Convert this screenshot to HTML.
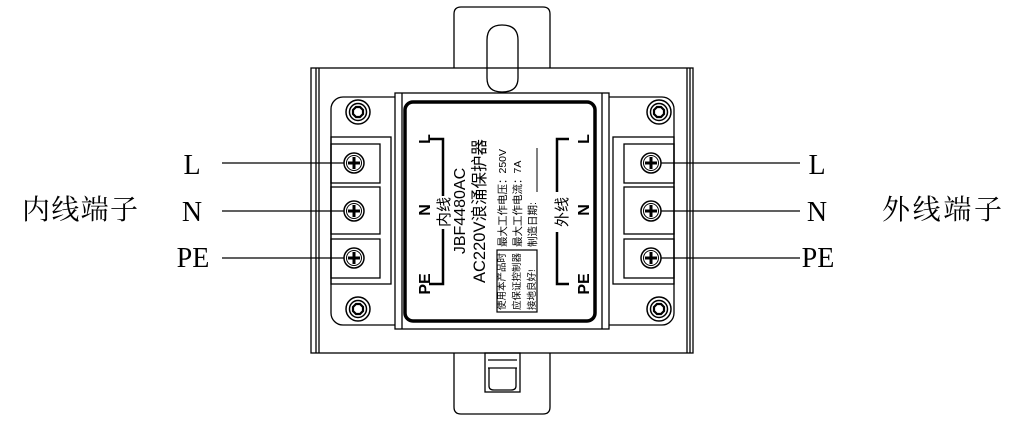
<!DOCTYPE html>
<html><head><meta charset="utf-8"><style>
html,body{margin:0;padding:0;background:#fff;}
svg{display:block}
.s{font-family:"Liberation Serif","Noto Serif CJK SC",serif;font-size:28px;fill:#000}
.c{font-family:"Liberation Sans","Noto Sans CJK SC",sans-serif;fill:#000}
</style></head><body>
<svg width="1020" height="431" viewBox="0 0 1020 431" xmlns="http://www.w3.org/2000/svg">
<g fill="none" stroke="#000" stroke-width="1.3">
<path d="M454,68 V14 Q454,7 461,7 H543 Q550,7 550,14 V68"/>
<path d="M454,353 V407 Q454,414 461,414 H543 Q550,414 550,407 V353"/>
<path d="M487,40 Q487,25 502,25 Q518,25 518,40 V78 Q518,92 502,92 Q487,92 487,78 Z"/>
<rect x="485" y="353" width="35" height="39"/>
<path d="M488,360 H517 M488,368 H517 M489,368 V386 Q489,390 494,390 H511 Q516,390 516,386 V368"/>
<rect x="311" y="68" width="382" height="285"/>
<line x1="319" y1="68" x2="319" y2="353"/><line x1="316" y1="68" x2="316" y2="353"/>
<line x1="687" y1="68" x2="687" y2="353"/><line x1="690" y1="68" x2="690" y2="353"/>
<rect x="331" y="97" width="343" height="228" rx="12"/>
<rect x="395" y="93" width="214" height="236" fill="#fff"/>
<line x1="402" y1="93" x2="402" y2="329"/><line x1="602" y1="93" x2="602" y2="329"/>
<rect x="405" y="102" width="190" height="219" rx="8" stroke-width="3.5"/>
<rect x="331" y="137" width="60" height="147"/>
<rect x="331" y="144" width="49" height="39"/><rect x="331" y="187" width="49" height="47"/><rect x="331" y="239" width="49" height="39"/>
<rect x="613" y="137" width="61" height="147"/>
<rect x="624" y="144" width="50" height="39"/><rect x="624" y="187" width="50" height="47"/><rect x="624" y="239" width="50" height="39"/>
<line x1="222" y1="163" x2="354" y2="163"/><line x1="222" y1="211" x2="354" y2="211"/><line x1="222" y1="258" x2="354" y2="258"/>
<line x1="651" y1="163" x2="800" y2="163"/><line x1="651" y1="211" x2="800" y2="211"/><line x1="651" y1="258" x2="800" y2="258"/>
</g>
<g fill="#fff" stroke="#000" stroke-width="1.5">
<g transform="translate(358,112)"><circle r="12"/><circle r="8.5"/><path d="M-5,-2 L-2,-5 L2,-5 L5,-2 L5,2 L2,5 L-2,5 L-5,2Z" stroke-width="2.2"/></g>
<g transform="translate(659,112)"><circle r="12"/><circle r="8.5"/><path d="M-5,-2 L-2,-5 L2,-5 L5,-2 L5,2 L2,5 L-2,5 L-5,2Z" stroke-width="2.2"/></g>
<g transform="translate(358,309)"><circle r="12"/><circle r="8.5"/><path d="M-5,-2 L-2,-5 L2,-5 L5,-2 L5,2 L2,5 L-2,5 L-5,2Z" stroke-width="2.2"/></g>
<g transform="translate(659,309)"><circle r="12"/><circle r="8.5"/><path d="M-5,-2 L-2,-5 L2,-5 L5,-2 L5,2 L2,5 L-2,5 L-5,2Z" stroke-width="2.2"/></g>
</g>
<g stroke="#000" fill="#fff">
<g transform="translate(354,163)"><circle r="10" stroke-width="1.5"/><circle r="7.5" stroke-width="1"/><path d="M-6,0H6M0,-6V6" stroke-width="3"/></g>
<g transform="translate(354,211)"><circle r="10" stroke-width="1.5"/><circle r="7.5" stroke-width="1"/><path d="M-6,0H6M0,-6V6" stroke-width="3"/></g>
<g transform="translate(354,258)"><circle r="10" stroke-width="1.5"/><circle r="7.5" stroke-width="1"/><path d="M-6,0H6M0,-6V6" stroke-width="3"/></g>
<g transform="translate(651,163)"><circle r="10" stroke-width="1.5"/><circle r="7.5" stroke-width="1"/><path d="M-6,0H6M0,-6V6" stroke-width="3"/></g>
<g transform="translate(651,211)"><circle r="10" stroke-width="1.5"/><circle r="7.5" stroke-width="1"/><path d="M-6,0H6M0,-6V6" stroke-width="3"/></g>
<g transform="translate(651,258)"><circle r="10" stroke-width="1.5"/><circle r="7.5" stroke-width="1"/><path d="M-6,0H6M0,-6V6" stroke-width="3"/></g>
</g>
<g fill="none" stroke="#000" stroke-width="2.5">
<path d="M429,139 H443 V196 M443,229 V284 H429"/>
<path d="M569,139 H557 V192 M557,232 V284 H569"/>
</g>
<line x1="537" y1="148" x2="537" y2="192" stroke="#000" stroke-width="1"/>
<rect x="497" y="250" width="40" height="62" fill="none" stroke="#000" stroke-width="1.2"/>
<g class="c">
<text transform="translate(430,139) rotate(-90)" font-size="16" font-weight="bold" text-anchor="middle">L</text>
<text transform="translate(430,210) rotate(-90)" font-size="16" font-weight="bold" text-anchor="middle">N</text>
<text transform="translate(430,284) rotate(-90)" font-size="16" font-weight="bold" text-anchor="middle">PE</text>
<text transform="translate(589,139) rotate(-90)" font-size="16" font-weight="bold" text-anchor="middle">L</text>
<text transform="translate(589,210) rotate(-90)" font-size="16" font-weight="bold" text-anchor="middle">N</text>
<text transform="translate(589,284) rotate(-90)" font-size="16" font-weight="bold" text-anchor="middle">PE</text>
<text transform="translate(449,212) rotate(-90)" font-size="15" text-anchor="middle">内线</text>
<text transform="translate(567,212) rotate(-90)" font-size="15" text-anchor="middle">外线</text>
<text transform="translate(465,211) rotate(-90)" font-size="16" text-anchor="middle">JBF4480AC</text>
<text transform="translate(485,211) rotate(-90)" font-size="16.5" text-anchor="middle">AC220V浪涌保护器</text>
<text transform="translate(506,247) rotate(-90)" font-size="10.5">最大工作电压：250V</text>
<text transform="translate(521,247) rotate(-90)" font-size="10.5">最大工作电流：7A</text>
<text transform="translate(536,247) rotate(-90)" font-size="10.5">制造日期:</text>
<text transform="translate(505,310) rotate(-90)" font-size="9.5">使用本产品时</text>
<text transform="translate(520,310) rotate(-90)" font-size="9.5">应保证控制器</text>
<text transform="translate(535,310) rotate(-90)" font-size="9.5">接地良好!</text>
</g>
<text class="s" x="192" y="174" text-anchor="middle">L</text>
<text class="s" x="192" y="221" text-anchor="middle">N</text>
<text class="s" x="193" y="267" text-anchor="middle">PE</text>
<text class="s" x="22" y="219" font-size="29" textLength="116">内线端子</text>
<text class="s" x="817" y="174" text-anchor="middle">L</text>
<text class="s" x="817" y="221" text-anchor="middle">N</text>
<text class="s" x="818" y="267" text-anchor="middle">PE</text>
<text class="s" x="882" y="219" font-size="29" textLength="120">外线端子</text>
</svg>
</body></html>
